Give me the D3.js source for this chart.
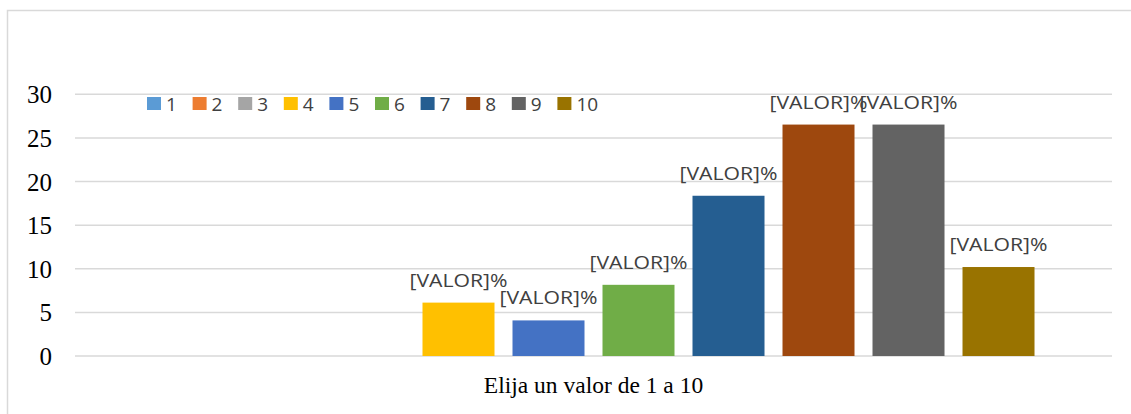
<!DOCTYPE html>
<html>
<head>
<meta charset="utf-8">
<script src="https://cdn.jsdelivr.net/npm/d3@7"></script>
<style>
  body { margin: 0; background: #fff; }
</style>
</head>
<body>
<script>
const svgW = 1131;
const svgH = 414;

// datos
const category = 'Elija un valor de 1 a 10';
const series = ['1', '2', '3', '4', '5', '6', '7', '8', '9', '10'];
const values = [0, 0, 0, 6.12, 4.08, 8.16, 18.37, 26.53, 26.53, 10.20];
const yTicks = [0, 5, 10, 15, 20, 25, 30];
const colors = ['#5B9BD5', '#ED7D31', '#A5A5A5', '#FFC000', '#4472C4',
                '#70AD47', '#255E91', '#9E480E', '#636363', '#997300'];

const svg = d3.select('body')
              .append('svg')
              .attr('width', svgW)
              .attr('height', svgH);

// marco del gráfico
svg.append('rect')
   .attr('x', 7.5).attr('y', 10.5)
   .attr('width', 1140).attr('height', 420)
   .attr('fill', 'none')
   .attr('stroke', '#d9d9d9')
   .attr('stroke-width', 1.5);

const plotL = 75, plotR = 1112, plotT = 94.3, plotB = 356;

const y = d3.scaleLinear().domain([0, 30]).range([plotB, plotT]);

const x0 = d3.scaleBand().domain([category]).range([plotL, plotR]).paddingOuter(0.0761);
const x1 = d3.scaleBand().domain(series)
             .range([x0(category), x0(category) + x0.bandwidth()])
             .paddingInner(0.2).paddingOuter(0.1);

// líneas de cuadrícula
svg.append('g')
   .selectAll('line')
   .data(yTicks)
   .enter()
   .append('line')
   .attr('x1', plotL).attr('x2', plotR)
   .attr('y1', d => y(d)).attr('y2', d => y(d))
   .attr('stroke', '#d9d9d9')
   .attr('stroke-width', 1.5);

// etiquetas eje y
svg.append('g')
   .selectAll('text')
   .data(yTicks)
   .enter()
   .append('text')
   .attr('x', 52)
   .attr('y', d => y(d) + 9)
   .attr('text-anchor', 'end')
   .attr('font-family', '"Liberation Serif", "Times New Roman", serif')
   .attr('font-size', 25)
   .attr('fill', '#000')
   .text(d => d);

// barras
const data = series.map((s, i) => ({ s: s, v: values[i], c: colors[i] }));

svg.append('g')
   .selectAll('rect')
   .data(data)
   .enter()
   .append('rect')
   .attr('x', d => x1(d.s))
   .attr('y', d => y(d.v))
   .attr('width', x1.bandwidth())
   .attr('height', d => y(0) - y(d.v))
   .attr('fill', d => d.c);

// etiquetas de datos
svg.append('g')
   .selectAll('text')
   .data(data.filter(d => d.v > 0))
   .enter()
   .append('text')
   .attr('x', d => x1(d.s) + x1.bandwidth() / 2)
   .attr('y', d => y(d.v) - 16)
   .attr('text-anchor', 'middle')
   .attr('font-family', '"Open Sans", "Liberation Sans", sans-serif')
   .attr('font-size', 19)
   .attr('textLength', 98)
   .attr('lengthAdjust', 'spacingAndGlyphs')
   .attr('fill', '#404040')
   .text('[VALOR]%');

// título eje x
svg.append('text')
   .attr('x', x0(category) + x0.bandwidth() / 2)
   .attr('y', 393)
   .attr('text-anchor', 'middle')
   .attr('font-family', '"Liberation Serif", "Times New Roman", serif')
   .attr('font-size', 23.5)
   .attr('fill', '#000')
   .text(category);

// leyenda
const legend = svg.append('g')
                  .selectAll('g')
                  .data(data)
                  .enter()
                  .append('g')
                  .attr('transform', (d, i) => `translate(${147 + i * 45.6}, 97)`);
legend.append('rect')
      .attr('width', 14).attr('height', 13)
      .attr('fill', d => d.c);
legend.append('text')
      .attr('x', 19)
      .attr('y', 13.5)
      .attr('font-family', '"Open Sans", "Liberation Sans", sans-serif')
      .attr('font-size', 19)
      .attr('fill', '#404040')
      .text(d => d.s);
</script>
</body>
</html>
